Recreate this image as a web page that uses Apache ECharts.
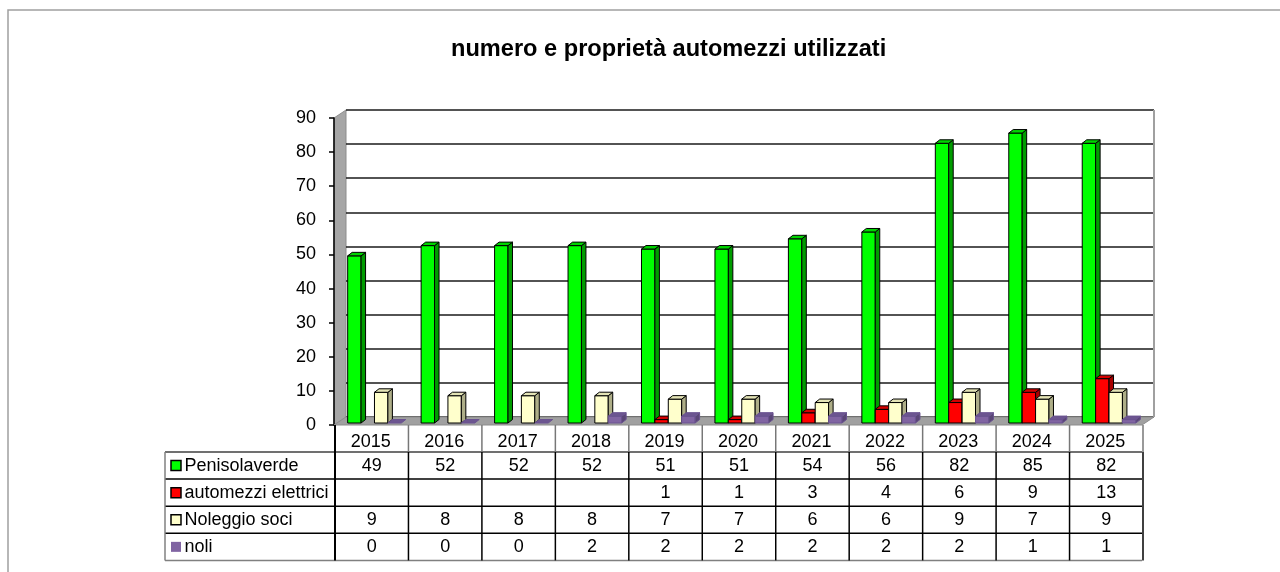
<!DOCTYPE html>
<html>
<head>
<meta charset="utf-8">
<script src="https://cdn.jsdelivr.net/npm/echarts@6/dist/echarts.min.js"></script>
<style>
  html, body { margin: 0; padding: 0; background: #fff; }
  #main { width: 1280px; height: 572px; }
</style>
</head>
<body>
<div id="main"></div>
<script>
// dati
var years = ['2015', '2016', '2017', '2018', '2019', '2020', '2021', '2022', '2023', '2024', '2025'];
var penisolaverde = [49, 52, 52, 52, 51, 51, 54, 56, 82, 85, 82];
var elettrici = [null, null, null, null, 1, 1, 3, 4, 6, 9, 13];
var noleggio = [9, 8, 8, 8, 7, 7, 6, 6, 9, 7, 9];
var noli = [0, 0, 0, 2, 2, 2, 2, 2, 2, 1, 1];
var seriesNames = ['Penisolaverde', 'automezzi elettrici', 'Noleggio soci', 'noli'];
var yMin = 0, yMax = 90, yStep = 10;

var FONT = '"Liberation Sans", Arial, sans-serif';

// piano frontale del grafico 3D
var FX = 334, FY = 118, PW = 808, PH = 307;
var BACK_DX = 12, BACK_DY = 8;   // parete di fondo
var BAR_DX = 6, BAR_DY = 2;      // piano delle barre
var DEPTH_X = 4.5, DEPTH_Y = 3.5; // profondita barre
var BAR_RATIO = 13.4 / (PW / years.length);

var colors = [
    {front: '#00ff00', side: '#009c00', top: '#00d400', line: '#000'},
    {front: '#ff0000', side: '#a80000', top: '#d40000', line: '#000'},
    {front: '#ffffcc', side: '#aeae88', top: '#e4e4b6', line: '#000'},
    {front: '#8064a2', side: '#5a4676', top: '#6c5590', line: '#6a5390'}
];
var allData = [penisolaverde, elettrici, noleggio, noli];

var myChart = echarts.init(document.getElementById('main'));

function bar3D(idx) {
    var c = colors[idx];
    return {
        type: 'custom',
        name: seriesNames[idx],
        xAxisIndex: 2,
        yAxisIndex: 2,
        encode: {x: 0, y: 1},
        data: allData[idx].map(function (v, i) { return [i, v == null ? '-' : v]; }),
        renderItem: function (params, api) {
            var v = api.value(1);
            if (v == null || isNaN(v)) return;
            var i = api.value(0);
            var base = api.coord([i, 0]);
            var top = api.coord([i, v]);
            var band = api.size([1, 0])[0];
            var w = band * BAR_RATIO;
            var x0 = base[0] - (4 * w + DEPTH_X) / 2 + idx * w;
            var x1 = x0 + w;
            var yb = base[1], yt = top[1];
            var st = {stroke: c.line, lineWidth: 1, lineJoin: 'round'};
            var kids = [];
            if (yb - yt > 0.5) {
                kids.push({type: 'rect', shape: {x: x0, y: yt, width: w, height: yb - yt},
                    style: echarts.util.extend({fill: c.front}, st)});
                kids.push({type: 'polygon', shape: {points: [[x1, yt], [x1 + DEPTH_X, yt - DEPTH_Y], [x1 + DEPTH_X, yb - DEPTH_Y], [x1, yb]]},
                    style: echarts.util.extend({fill: c.side}, st)});
            }
            kids.push({type: 'polygon', shape: {points: [[x0, yt], [x0 + DEPTH_X, yt - DEPTH_Y], [x1 + DEPTH_X, yt - DEPTH_Y], [x1, yt]]},
                style: echarts.util.extend({fill: c.top}, st)});
            return {type: 'group', children: kids};
        }
    };
}

// cornice, pareti e tabella dati
var graphic = [];
graphic.push({type: 'rect', z: -2, shape: {x: 8, y: 10, width: 1400, height: 700},
    style: {fill: 'none', stroke: '#a0a0a0', lineWidth: 1.5}});
graphic.push({type: 'polygon', z: -1, shape: {points: [[FX, FY + PH], [FX, FY], [FX + BACK_DX, FY - BACK_DY], [FX + BACK_DX, FY + PH - BACK_DY]]},
    style: {fill: '#a6a6a6', stroke: '#8c8c8c', lineWidth: 1}});
graphic.push({type: 'polygon', z: 1, shape: {points: [[FX, FY + PH], [FX + BACK_DX, FY + PH - BACK_DY], [FX + PW + BACK_DX, FY + PH - BACK_DY], [FX + PW, FY + PH]]},
    style: {fill: '#a0a0a0', stroke: '#8c8c8c', lineWidth: 1}});
graphic.push({type: 'line', z: 1, shape: {x1: FX + PW + BACK_DX, y1: FY - BACK_DY, x2: FX + PW + BACK_DX, y2: FY + PH - BACK_DY},
    style: {stroke: '#a0a0a0', lineWidth: 2}});

var TL = 165, TR = FX + PW, catTop = FY + PH, rowTop = 452, rowH = 27.1;
var colW = PW / years.length;
var tBottom = rowTop + rowH * 4;
function hline(x1, x2, y, color, lw) {
    graphic.push({type: 'line', z: 10, shape: {x1: x1, y1: y, x2: x2, y2: y}, style: {stroke: color, lineWidth: lw}});
}
function vline(x, y1, y2, color, lw) {
    graphic.push({type: 'line', z: 10, shape: {x1: x, y1: y1, x2: x, y2: y2}, style: {stroke: color, lineWidth: lw}});
}
for (var k = 0; k <= 4; k++) {
    var col = (k === 4) ? '#808080' : (k === 0 ? '#404040' : '#000');
    hline(TL, TR, rowTop + rowH * k, col, 1.5);
}
vline(TL, rowTop, tBottom, '#808080', 1.5);
vline(FX + 1, catTop, tBottom, '#000', 2);
for (var c = 1; c <= years.length; c++) {
    var x = FX + 1 + colW * c;
    vline(x, catTop, rowTop, '#777', 1.5);
    vline(x, rowTop, tBottom, '#000', 1.5);
}
seriesNames.forEach(function (name, r) {
    var cy = rowTop + rowH * (r + 0.5);
    var cc = colors[r];
    graphic.push({type: 'rect', z: 11, shape: {x: 171, y: cy - 5, width: 10, height: 10},
        style: {fill: cc.front, stroke: r === 3 ? null : '#000', lineWidth: 1.5}});
    graphic.push({type: 'text', z: 11, x: 184.5, y: cy,
        style: {text: name, fill: '#000', font: '18px ' + FONT, verticalAlign: 'middle', align: 'left'}});
    allData[r].forEach(function (v, i) {
        if (v == null) return;
        graphic.push({type: 'text', z: 11, x: FX + 1 + colW * (i + 0.5), y: cy,
            style: {text: String(v), fill: '#000', font: '18px ' + FONT, verticalAlign: 'middle', align: 'center'}});
    });
});

myChart.setOption({
    animation: false,
    title: {
        text: 'numero e proprietà automezzi utilizzati',
        left: 451,
        top: 37,
        padding: 0,
        textStyle: {fontFamily: FONT, fontSize: 23.6, fontWeight: 'bold', color: '#000'}
    },
    grid: [
        {left: FX + BACK_DX, top: FY - BACK_DY, width: PW, height: PH},
        {left: FX, top: FY, width: PW, height: PH},
        {left: FX + BAR_DX, top: FY - BAR_DY, width: PW, height: PH}
    ],
    xAxis: [0, 1, 2].map(function (g) {
        return {
            type: 'category', gridIndex: g, data: years, show: g === 1,
            axisLine: {show: false}, axisTick: {show: false}, splitLine: {show: false},
            axisLabel: {margin: 8, color: '#000', fontSize: 18, fontFamily: FONT}
        };
    }),
    yAxis: [
        {
            type: 'value', gridIndex: 0, min: yMin, max: yMax, interval: yStep,
            axisLabel: {show: false}, axisLine: {show: false}, axisTick: {show: false},
            splitLine: {show: true, lineStyle: {color: '#1a1a1a', width: 1.5}}
        },
        {
            type: 'value', gridIndex: 1, min: yMin, max: yMax, interval: yStep,
            axisLine: {show: true, lineStyle: {color: '#000', width: 1.5}},
            axisTick: {show: true, length: 5, lineStyle: {color: '#000', width: 1.5}},
            axisLabel: {margin: 18, color: '#000', fontSize: 18, fontFamily: FONT},
            splitLine: {show: false}
        },
        {type: 'value', gridIndex: 2, min: yMin, max: yMax, interval: yStep, show: false, splitLine: {show: false}}
    ],
    graphic: graphic,
    series: [bar3D(0), bar3D(1), bar3D(2), bar3D(3)]
});
</script>
</body>
</html>
